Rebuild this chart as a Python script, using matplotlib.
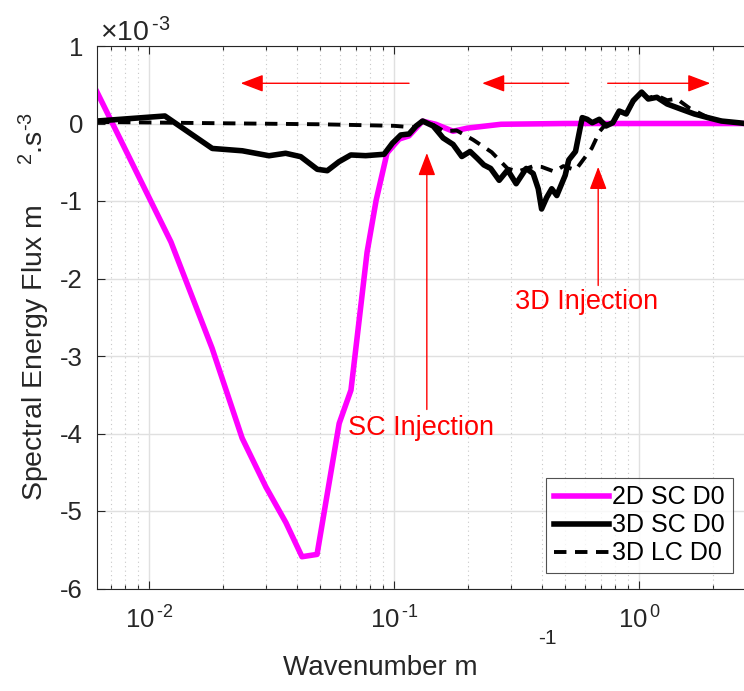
import numpy as np
import matplotlib
matplotlib.use("Agg")
import matplotlib.pyplot as plt
from matplotlib.ticker import FuncFormatter, LogLocator

plt.rcParams['font.family'] = ['Liberation Sans', 'DejaVu Sans']
plt.rcParams['mathtext.fontset'] = 'custom'
plt.rcParams['mathtext.rm'] = 'Liberation Sans'
plt.rcParams['mathtext.it'] = 'Liberation Sans'
plt.rcParams['mathtext.bf'] = 'Liberation Sans'
plt.rcParams['axes.unicode_minus'] = False

SCALE = 1e-3

# 2D SC D0
k_2d = [0.00614, 0.0123, 0.0181, 0.0240, 0.0300, 0.0362, 0.0421, 0.0485, 0.0597,
        0.0667, 0.0776, 0.0845, 0.0936, 0.105, 0.115, 0.1306, 0.148, 0.174, 0.199,
        0.273, 0.5, 1.0, 2.7]
f_2d = [0.406, -1.529, -2.90, -4.06, -4.69, -5.15, -5.59, -5.56, -3.87,
        -3.44, -1.66, -0.99, -0.38, -0.20, -0.16, 0.03, -0.01, -0.10, -0.06,
        -0.01, 0.0, 0.0, 0.0]

# 3D SC D0
k_3dsc = [0.00615, 0.01162, 0.01813, 0.02404, 0.0309, 0.0361, 0.0416, 0.0486, 0.0534,
          0.0596, 0.0666, 0.0766, 0.0910, 0.0984, 0.1065, 0.1151, 0.1230, 0.1307,
          0.1443, 0.1585, 0.174, 0.1889, 0.2042, 0.2182, 0.2324, 0.2477, 0.2683,
          0.2905, 0.3147, 0.3458, 0.3693, 0.3872, 0.3996, 0.4194, 0.4395, 0.4610,
          0.4989, 0.5157, 0.5495, 0.5853, 0.6135, 0.6430, 0.6870, 0.7318, 0.780,
          0.8286, 0.8851, 0.9451, 1.0228, 1.0882, 1.180, 1.299, 1.4757, 1.677,
          1.904, 2.162, 2.536, 2.7]
f_3dsc = [0.032, 0.097, -0.322, -0.352, -0.416, -0.384, -0.428, -0.591, -0.609,
          -0.493, -0.406, -0.415, -0.397, -0.255, -0.148, -0.135, -0.032, 0.032,
          -0.032, -0.187, -0.27, -0.426, -0.361, -0.448, -0.535, -0.58, -0.733,
          -0.60, -0.777, -0.58, -0.646, -0.842, -1.103, -0.953, -0.842, -0.93,
          -0.668, -0.471, -0.361, 0.076, 0.054, 0.01, 0.054, -0.032, 0.01,
          0.161, 0.123, 0.295, 0.405, 0.316, 0.338, 0.252, 0.187, 0.123,
          0.076, 0.032, 0.01, 0.0]

# 3D LC D0
k_3dlc = [0.00614, 0.0123, 0.05, 0.10, 0.12, 0.1307, 0.145, 0.16, 0.18, 0.21,
          0.25, 0.29, 0.32, 0.37, 0.40, 0.45, 0.49, 0.55, 0.64, 0.69, 0.73,
          0.78, 0.83, 0.885, 0.945, 1.02, 1.09, 1.18, 1.30, 1.42, 1.6, 1.9,
          2.2, 2.7]
f_3dlc = [0.02, 0.01, -0.01, -0.03, -0.05, 0.02, -0.02, -0.10, -0.09, -0.21,
          -0.37, -0.58, -0.62, -0.55, -0.56, -0.62, -0.55, -0.60, -0.32, -0.10,
          -0.01, 0.0, 0.15, 0.13, 0.28, 0.40, 0.33, 0.36, 0.30, 0.32, 0.20,
          0.08, 0.03, 0.0]

series_names = ['2D SC D0', '3D SC D0', '3D LC D0']
y_ticks = [-6, -5, -4, -3, -2, -1, 0, 1]

fig = plt.figure(figsize=(7.44, 6.91), dpi=100)
ax = fig.add_axes([97/744, (691-588.5)/691, 648/744, 542.5/691])

ax.plot(k_2d, np.array(f_2d)*SCALE, color='#ff00ff', lw=4.0, label=series_names[0])
ax.plot(k_3dsc, np.array(f_3dsc)*SCALE, color='black', lw=4.0, label=series_names[1])
ax.plot(k_3dlc, np.array(f_3dlc)*SCALE, color='black', lw=2.8, ls=(0, (3.2, 2.2)),
        label=series_names[2])

ax.set_xscale('log')
ax.set_xlim(0.00614, 2.7)
ax.set_ylim(-6e-3, 1e-3)
ax.set_yticks(np.array(y_ticks)*SCALE)
ax.yaxis.set_major_formatter(FuncFormatter(lambda v, p: '%g' % round(v/SCALE, 6)))


def log_fmt(v, p):
    e = int(round(np.log10(v)))
    s = str(e).replace('-', r'\text{-}')
    return r'$10^{\,' + s + '}$'


ax.xaxis.set_major_locator(LogLocator(base=10, numticks=10))
ax.xaxis.set_major_formatter(FuncFormatter(log_fmt))
ax.xaxis.set_minor_locator(LogLocator(base=10, subs=np.arange(2, 10), numticks=20))

ax.grid(True, which='major', color='#e0e0e0', lw=1, ls='-')
ax.grid(True, which='minor', axis='x', color='#c8c8c8', lw=0.8, ls=(0, (1, 3)))
ax.set_axisbelow(True)

ax.tick_params(which='both', direction='in', top=True, right=False, colors='#262626',
               width=0.8)
ax.tick_params(axis='y', labelsize=18.5, pad=10)
ax.tick_params(axis='x', labelsize=18.5, pad=13)
ax.tick_params(which='major', length=6)
ax.tick_params(which='minor', length=3)
for s in ['left', 'top', 'bottom']:
    ax.spines[s].set_color('#262626')
    ax.spines[s].set_linewidth(0.8)
ax.spines['right'].set_visible(False)

# multiplier text
fig.text(100/744, 1 - 41/691, r'$\times10^{\,\text{-}3}$', fontsize=20.5, color='#262626',
         ha='left', va='baseline')

ax.set_xlabel('Wavenumber m', fontsize=20, color='#262626', labelpad=14)
ax.xaxis.set_label_coords((380 - 97)/648, -(668 - 588.5)/542.5)
ax.xaxis.label.set_va('center')
fig.text(547/744, 1 - 638/691, '-1', fontsize=15, color='#262626', ha='center', va='center')
ax.set_ylabel(r'Spectral Energy Flux m     $^{2}$.s$^{-3}$'.replace('-', r'\text{-}'),
              fontsize=20.5, color='#262626')
ax.yaxis.set_label_coords(-0.07, 0.52)

# annotations
red = '#ff0000'
ap = dict(arrowstyle='-|>,head_length=1.0,head_width=0.38', color=red, lw=1.0,
          shrinkA=0, shrinkB=0, mutation_scale=14)
ax.annotate('', xy=(0.02367, 0.519e-3), xytext=(0.1151, 0.519e-3), arrowprops=ap)
ax.annotate('', xy=(0.2287, 0.519e-3), xytext=(0.5157, 0.519e-3), arrowprops=ap)
ax.annotate('', xy=(1.949, 0.519e-3), xytext=(0.7436, 0.519e-3), arrowprops=ap)
ax.annotate('', xy=(0.136, -0.381e-3), xytext=(0.136, -3.69e-3), arrowprops=ap)
ax.annotate('', xy=(0.680, -0.56e-3), xytext=(0.680, -2.09e-3), arrowprops=ap)
ax.text(0.0651, -3.93e-3, 'SC Injection', color=red, fontsize=19.5, va='center', ha='left')
ax.text(0.312, -2.30e-3, '3D Injection', color=red, fontsize=19.5, va='center', ha='left')

leg = ax.legend(loc='lower right', bbox_to_anchor=(0.981, 0.0286), fontsize=18,
                frameon=True, fancybox=False, edgecolor='#262626', handlelength=2.2,
                borderpad=0.3, labelspacing=0.16, handletextpad=0.15, borderaxespad=0)
leg.get_frame().set_linewidth(0.8)

fig.savefig('out.png', dpi=100)
